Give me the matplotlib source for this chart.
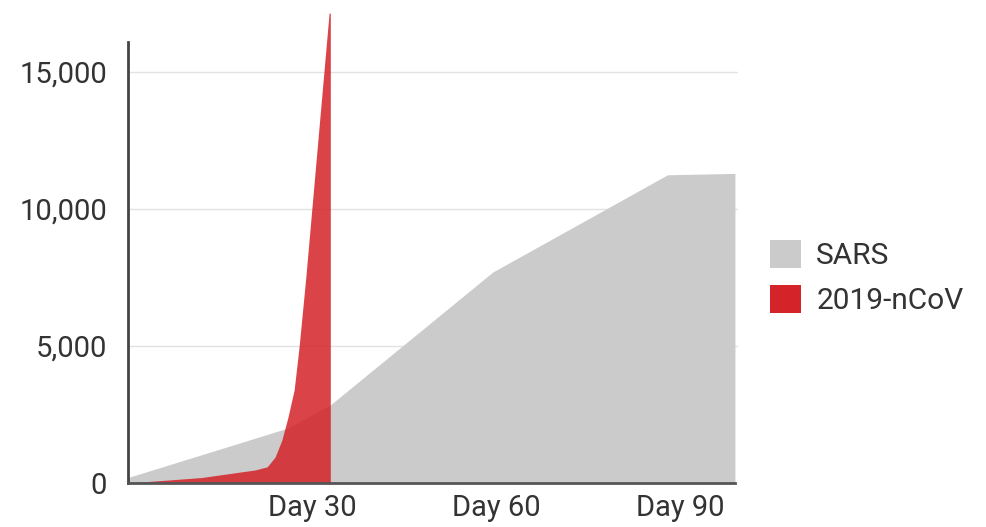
import matplotlib
matplotlib.use("Agg")
import matplotlib.pyplot as plt

# cumulative cases by day since outbreak start
sars_days = [0, 26, 33, 59.5, 88, 99]
sars_cases = [200, 2000, 2850, 7700, 11250, 11300]

ncov_days = [0, 12, 20.7, 22.7, 24.0, 25.1, 26.1, 27.1, 27.9, 29.0, 32.8, 33]
ncov_cases = [0, 200, 475, 590, 950, 1570, 2410, 3400, 4960, 7500, 17150, 17150]

x_ticks = [30, 60, 90]
x_labels = ["Day 30", "Day 60", "Day 90"]
y_ticks = [0, 5000, 10000, 15000]
y_labels = ["0", "5,000", "10,000", "15,000"]

plt.rcParams["font.family"] = ["Roboto", "DejaVu Sans"]
text_color = "#333333"

fig = plt.figure(figsize=(9.86, 5.27), dpi=100)
ax = fig.add_axes([128 / 986, 1 - 483 / 527, (738 - 128) / 986, 483 / 527])

ax.fill_between(sars_days, sars_cases, color="#cbcbcb", lw=0, label="SARS", zorder=2)
ax.fill_between(ncov_days, ncov_cases, color="#d42329", alpha=0.85, lw=0,
                label="2019-nCoV", zorder=3)

ax.set_xlim(0, 99.5)
ax.set_ylim(0, 17630)
ax.set_xticks(x_ticks, x_labels)
ax.set_yticks(y_ticks, y_labels)
ax.tick_params(length=0, labelsize=21, colors=text_color)
ax.tick_params(axis="y", pad=15)
ax.tick_params(axis="x", pad=8)

for y in y_ticks[1:]:
    ax.axhline(y, color="#e2e2e2", lw=1, zorder=1)

for side in ["top", "right"]:
    ax.spines[side].set_visible(False)
ax.spines["left"].set_bounds(0, 16100)
ax.spines["left"].set_color("#444444")
ax.spines["left"].set_linewidth(2)
ax.spines["bottom"].set_bounds(0, 99)
ax.spines["bottom"].set_color("#555555")
ax.spines["bottom"].set_linewidth(2)
ax.spines["bottom"].set_zorder(4)

handles, labels = ax.get_legend_handles_labels()
leg = fig.legend(handles, labels, loc="upper left",
                 bbox_to_anchor=(770 / 986, 1 - 240 / 527), frameon=False,
                 fontsize=21.5, handlelength=1.05, handleheight=1.05,
                 handletextpad=0.5, labelspacing=0.5, borderpad=0,
                 borderaxespad=0)
for t in leg.get_texts():
    t.set_color(text_color)
leg.legend_handles[1].set_alpha(1)
leg.legend_handles[1].set_color("#d42329")

fig.savefig("out.png", dpi=100)
